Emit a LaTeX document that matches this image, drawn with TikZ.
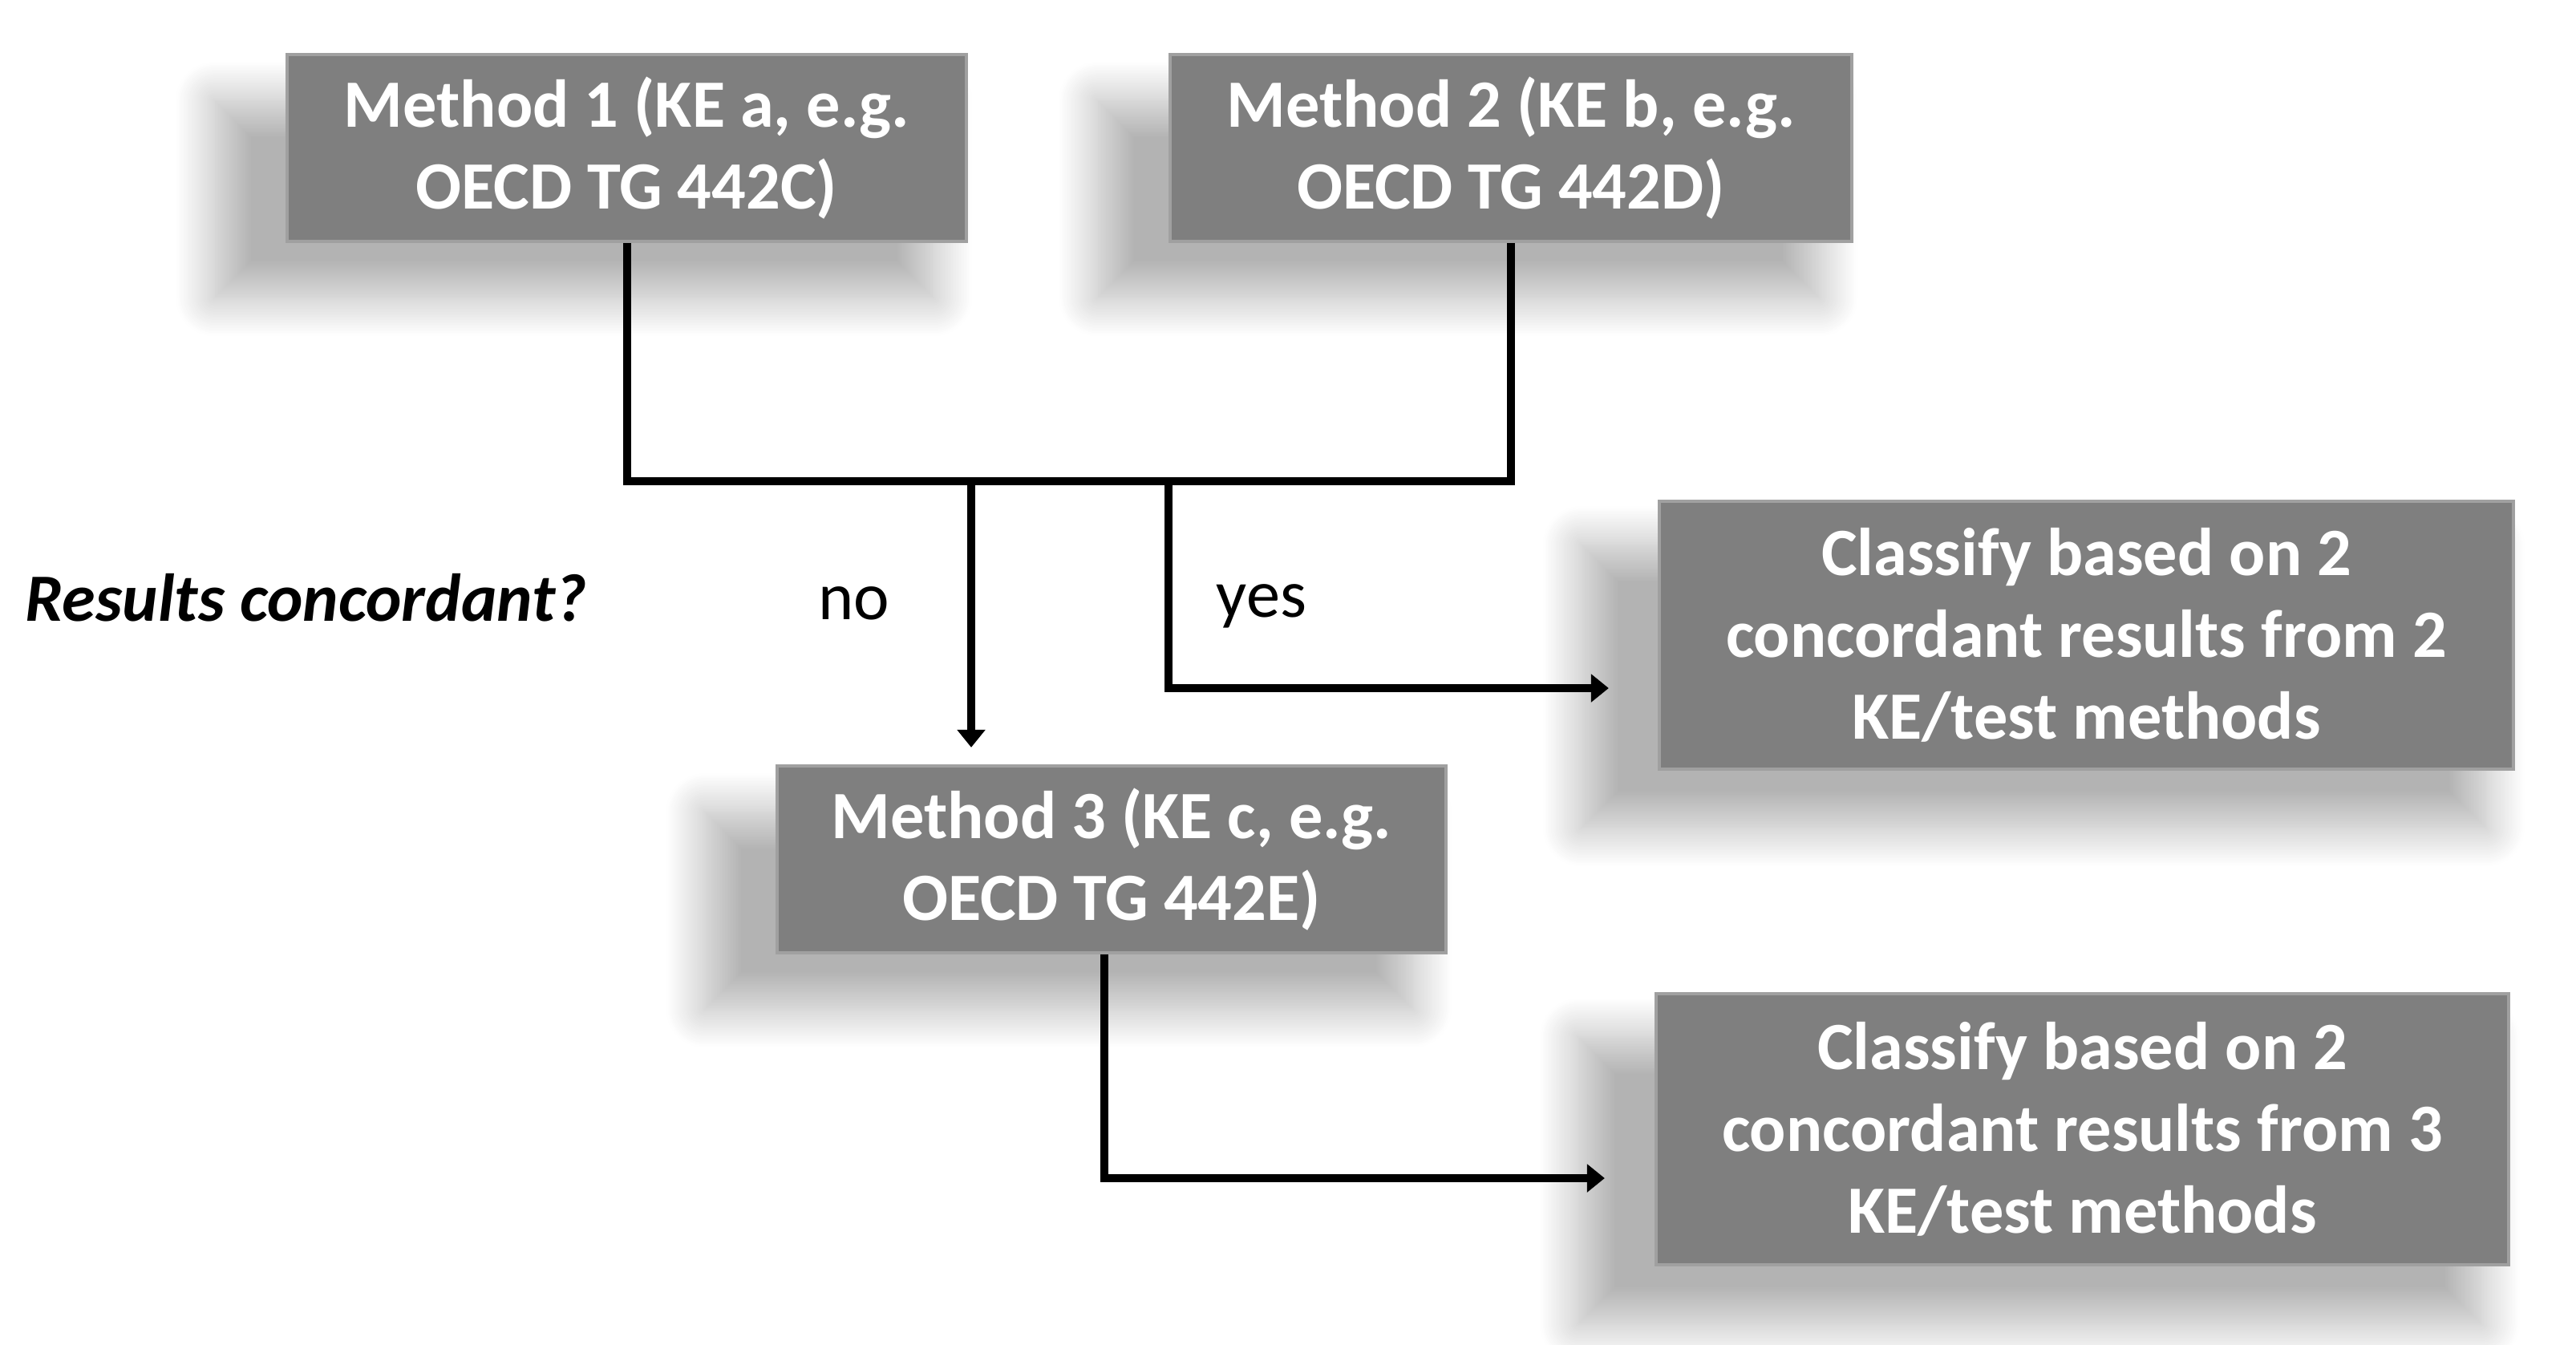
\documentclass[tikz,border=0pt]{standalone}
\usepackage{fontspec}
\setmainfont{Carlito}
\usetikzlibrary{arrows.meta, shadows.blur}
\definecolor{boxgray}{RGB}{127,127,127}
\definecolor{rimgray}{RGB}{160,160,160}

\begin{document}
\begin{tikzpicture}[
        box/.style={rectangle, draw=rimgray, line width=1.2pt, fill=boxgray, text=white, align=center, inner sep=0pt,
            font=\fontsize{24}{29}\selectfont\bfseries,
            blur shadow={shadow xshift=-0.62cm, shadow yshift=-0.6cm, shadow scale=1.06, shadow blur radius=0.45cm, shadow blur steps=24, shadow opacity=30}},
        link/.style={line width=0.1cm, black},
        arrow/.style={link, -{Triangle[length=0.22cm, width=0.34cm]}},
        lbl/.style={font=\fontsize{24}{29}\selectfont}
    ]
        \useasboundingbox (0,0) rectangle (32.12,-16.76);

        % test methods
        \node[box, minimum width=8.47cm, minimum height=2.33cm] (meth1) at (7.815,-1.845) {Method 1 (KE a, e.g.\\OECD TG 442C)};
        \node[box, minimum width=8.5cm, minimum height=2.33cm] (meth2) at (18.84,-1.845) {Method 2 (KE b, e.g.\\OECD TG 442D)};
        \node[box, minimum width=8.34cm, minimum height=2.33cm] (meth3) at (13.86,-10.715) {Method 3 (KE c, e.g.\\OECD TG 442E)};

        % outcomes
        \node[box, minimum width=10.65cm, minimum height=3.34cm] (class2) at (26.015,-7.92) {Classify based on 2\\concordant results from 2\\KE/test methods};
        \node[box, minimum width=10.63cm, minimum height=3.38cm] (class3) at (25.965,-14.08) {Classify based on 2\\concordant results from 3\\KE/test methods};

        % labels
        \node[lbl, anchor=west, inner sep=0pt, font=\fontsize{24}{29}\selectfont\bfseries\itshape] (question) at (0.31,-7.45) {Results concordant?};
        \node[lbl] (nolbl) at (10.65,-7.52) {no};
        \node[lbl] (yeslbl) at (15.73,-7.56) {yes};

        \coordinate (nofork) at (12.11,-6.0);
        \coordinate (yesfork) at (14.57,-6.0);

        \draw[link] (meth1.south) -- (meth1.south |- nofork) -| (meth2.south);
        \draw[arrow, shorten >=0.21cm] (nofork) -- (nofork |- meth3.north);
        \draw[arrow, shorten >=0.61cm] (yesfork) |- ([yshift=-0.66cm]class2.west);
        \draw[arrow, shorten >=0.62cm] ([xshift=-0.09cm]meth3.south) |- ([yshift=-0.61cm]class3.west);
    \end{tikzpicture}
\end{document}
